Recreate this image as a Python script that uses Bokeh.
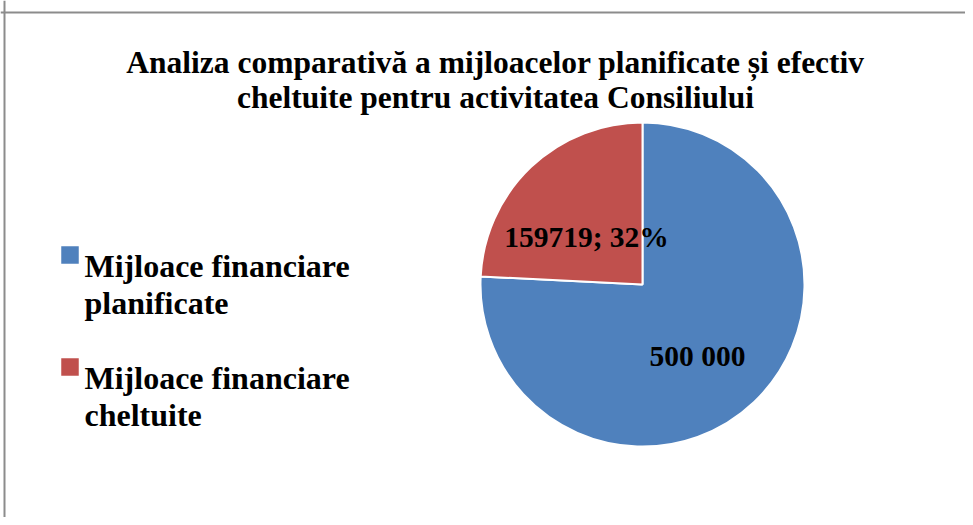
from math import pi
from bokeh.plotting import figure
from bokeh.models import Range1d, Span, ColumnDataSource
from bokeh.core.properties import value
from bokeh.embed import file_html
from bokeh.resources import INLINE

# ---- data ----
categories = ["Mijloace financiare planificate", "Mijloace financiare cheltuite"]
values = [500000, 159719]
colors = ["#4F81BD", "#C0504D"]
slice_labels = ["500 000", "159719; 32%"]
legend_lines = [["Mijloace financiare", "planificate"], ["Mijloace financiare", "cheltuite"]]
title_lines = ["Analiza comparativă a mijloacelor planificate și efectiv",
               "cheltuite pentru activitatea Consiliului"]

W, H = 965, 517
FONT = value("Liberation Serif")

p = figure(width=W, height=H, output_backend="svg", toolbar_location=None,
           x_range=Range1d(0, W), y_range=Range1d(0, H), min_border=0)
p.axis.visible = False
p.grid.visible = False
p.outline_line_color = None
p.background_fill_color = "white"
p.border_fill_color = "white"

def sx(x):
    return x

def sy(y):
    return H - y

# border (left and top edges visible)
p.add_layout(Span(location=sx(4), dimension="height", line_color="#8c8c8c", line_width=2))
p.add_layout(Span(location=sy(12), dimension="width", line_color="#8c8c8c", line_width=2))

# ---- pie ----
total = sum(values)
# red slice goes counterclockwise from 12 o'clock, blue fills the rest
cx, cy, r = sx(642), sy(284), 162
red_start = pi / 2
red_end = pi / 2 + 2 * pi * values[1] / total
starts = [red_end, red_start]
ends = [red_start + 2 * pi, red_end]
src = ColumnDataSource(dict(start=starts, end=ends, color=colors, cat=categories))
p.wedge(x=cx, y=cy, radius=r, start_angle="start", end_angle="end",
        fill_color="color", line_color="white", line_width=2, source=src)

# slice labels
p.text(x=[sx(697), sx(586)], y=[sy(355), sy(236)], text=slice_labels,
       text_font=FONT, text_font_style="bold", text_font_size="29.5px",
       text_align="center", text_baseline="alphabetic", text_color="black")

# ---- title ----
p.text(x=[sx(495), sx(495)], y=[sy(62), sy(97)], text=title_lines,
       text_font=FONT, text_font_style="bold", text_font_size="31.5px",
       text_align="center", text_baseline="alphabetic", text_color="black")

# ---- legend ----
sq_y = [254.5, 366.5]
p.rect(x=[sx(69.5)] * 2, y=[sy(v) for v in sq_y], width=17.5, height=17.5,
       fill_color=colors, line_color=None)
tx, ty = [], []
for b in [265, 377]:
    tx += [sx(84), sx(84)]
    ty += [sy(b), sy(b + 37)]
txt = [t for pair in legend_lines for t in pair]
p.text(x=tx, y=ty, text=txt, text_font=FONT, text_font_style="bold",
       text_font_size="32px", text_align="left", text_baseline="alphabetic",
       text_color="black")

open("out.html", "w").write(file_html(p, INLINE))
